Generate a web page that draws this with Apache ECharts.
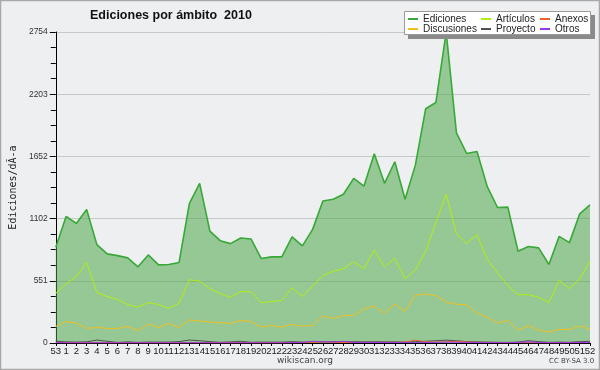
<!DOCTYPE html>
<html><head><meta charset="utf-8">
<script src="https://cdn.jsdelivr.net/npm/echarts@6/dist/echarts.min.js"></script>
<style>html,body{margin:0;padding:0;background:#eeeff1}#c{width:600px;height:370px}</style>
</head><body><div id="c"></div><script>
const weeks = ['53','1','2','3','4','5','6','7','8','9','10','11','12','13','14','15','16','17','18','19','20','21','22','23','24','25','26','27','28','29','30','31','32','33','34','35','36','37','38','39','40','41','42','43','44','45','46','47','48','49','50','51','52'];
const ediciones = [847,1120,1059,1182,871,789,774,754,675,780,692,695,713,1235,1414,991,906,880,930,921,748,763,763,939,860,1006,1258,1273,1317,1458,1390,1675,1414,1605,1273,1575,2074,2130,2754,1860,1678,1696,1384,1200,1203,812,854,842,695,944,889,1144,1223];
const articulos = [440,525,590,713,446,411,387,340,317,358,340,308,352,560,548,481,437,405,455,455,358,367,376,490,411,504,596,636,657,719,657,824,675,751,569,648,810,1068,1317,968,883,959,742,622,510,428,428,405,358,554,481,569,724];
const discusiones = [147,191,176,129,138,129,129,147,108,167,138,173,138,205,194,185,179,173,200,191,141,155,141,164,150,155,241,217,244,244,302,328,261,346,279,422,434,420,361,343,340,264,229,176,200,112,155,114,97,120,120,152,120];
const proyecto = [15,10,8,10,26,15,5,10,5,8,8,8,12,26,20,12,6,10,15,6,8,8,8,12,8,10,8,12,10,12,10,12,10,10,8,12,15,20,25,20,12,10,8,6,5,8,20,12,6,8,6,12,15];
const anexos = [5,3,3,2,3,2,2,3,2,2,2,3,2,3,3,2,2,2,3,2,2,2,2,3,3,5,12,5,4,5,5,6,5,5,8,25,10,8,10,15,10,6,5,4,3,3,3,2,2,2,3,3,4];
const otros = [3,2,2,2,2,2,2,2,2,2,2,2,2,2,2,2,2,2,2,2,2,2,2,3,5,15,12,8,15,5,5,5,4,4,4,5,5,5,8,6,5,4,3,3,3,5,10,5,3,3,3,5,5];
const yTicks = [0,551,1102,1652,2203,2754];

const chart = echarts.init(document.getElementById('c'), null, {renderer:'canvas'});
const lineSeries = (name, data, color, w) => ({
  name, type:'line', data, symbol:'none', smooth:false,
  lineStyle:{color, width:w}, itemStyle:{color}, z:3
});
const legText = {fontSize:10, lineHeight:10, color:'#222', fontFamily:'Liberation Sans'};
const legBase = {orient:'vertical', top:14, itemGap:0, itemWidth:10, itemHeight:2, icon:'rect', textStyle:legText, padding:0, z:10, selectedMode:false};
chart.setOption({
  backgroundColor:'#eeeff1',
  animation:false,
  title:{text:'Ediciones por ámbito  2010', left:85, top:4,
    textStyle:{fontFamily:'Liberation Sans', fontWeight:'bold', fontSize:12.5, color:'#111'}},
  legend:[
    Object.assign({}, legBase, {left:408, data:['Ediciones','Discusiones']}),
    Object.assign({}, legBase, {left:481, data:['Artículos','Proyecto']}),
    Object.assign({}, legBase, {left:540, data:['Anexos','Otros']})
  ],
  grid:{left:46, right:10, top:32, bottom:27},
  xAxis:{type:'category', data:weeks, boundaryGap:false,
    axisLine:{lineStyle:{color:'#000', width:1}},
    axisTick:{show:true, length:3, lineStyle:{color:'#000'}, alignWithLabel:true},
    axisLabel:{interval:0, fontSize:9.5, margin:3, color:'#222', fontFamily:'Liberation Sans'},
    splitLine:{show:false}},
  yAxis:{type:'value', min:0, max:2754, interval:2754/5,
    name:'Ediciones/dÃ-a', nameLocation:'middle', nameRotate:90, nameGap:36,
    nameTextStyle:{fontFamily:'DejaVu Sans Mono', fontSize:10, color:'#222'},
    axisLine:{show:true, lineStyle:{color:'#000', width:1}},
    axisTick:{show:true, length:6, lineStyle:{color:'#000'}},
    minorTick:{show:true, splitNumber:4, length:5, lineStyle:{color:'#000'}},
    axisLabel:{fontSize:8.5, margin:8, color:'#333', fontFamily:'Liberation Sans',
      formatter:(v)=>{ const i = Math.round(v/(2754/5)); return String(yTicks[i]); }},
    splitLine:{show:true, lineStyle:{color:'#c8c8c8', width:1}}},
  series:[
    Object.assign(lineSeries('Ediciones', ediciones, '#38a838', 1.6), {areaStyle:{color:'rgba(68,164,66,0.52)', opacity:1}, z:2}),
    lineSeries('Artículos', articulos, '#b4ee10', 1),
    lineSeries('Discusiones', discusiones, '#f0c020', 1),
    lineSeries('Proyecto', proyecto, '#505050', 1),
    lineSeries('Anexos', anexos, '#f06028', 1),
    lineSeries('Otros', otros, '#9a38ee', 1)
  ],
  graphic:[
    {type:'rect', z:5, shape:{x:408, y:15, width:187, height:24}, style:{fill:'#8a8a8a'}},
    {type:'rect', z:6, shape:{x:404.5, y:11.5, width:186, height:23}, style:{fill:'#ffffff', stroke:'#9a9a9a', lineWidth:1}},
    {type:'text', z:6, left:277, top:356, style:{text:'wikiscan.org', fontSize:9, fontFamily:'DejaVu Sans', fill:'#444'}},
    {type:'text', z:6, left:549, top:358, style:{text:'CC BY-SA 3.0', fontSize:7, fontFamily:'DejaVu Sans', fill:'#444'}},
    {type:'rect', z:7, silent:true, shape:{x:0.5, y:0.5, width:599, height:369}, style:{fill:'none', stroke:'#a8a8a8', lineWidth:1.5}}
  ]
});
</script></body></html>
